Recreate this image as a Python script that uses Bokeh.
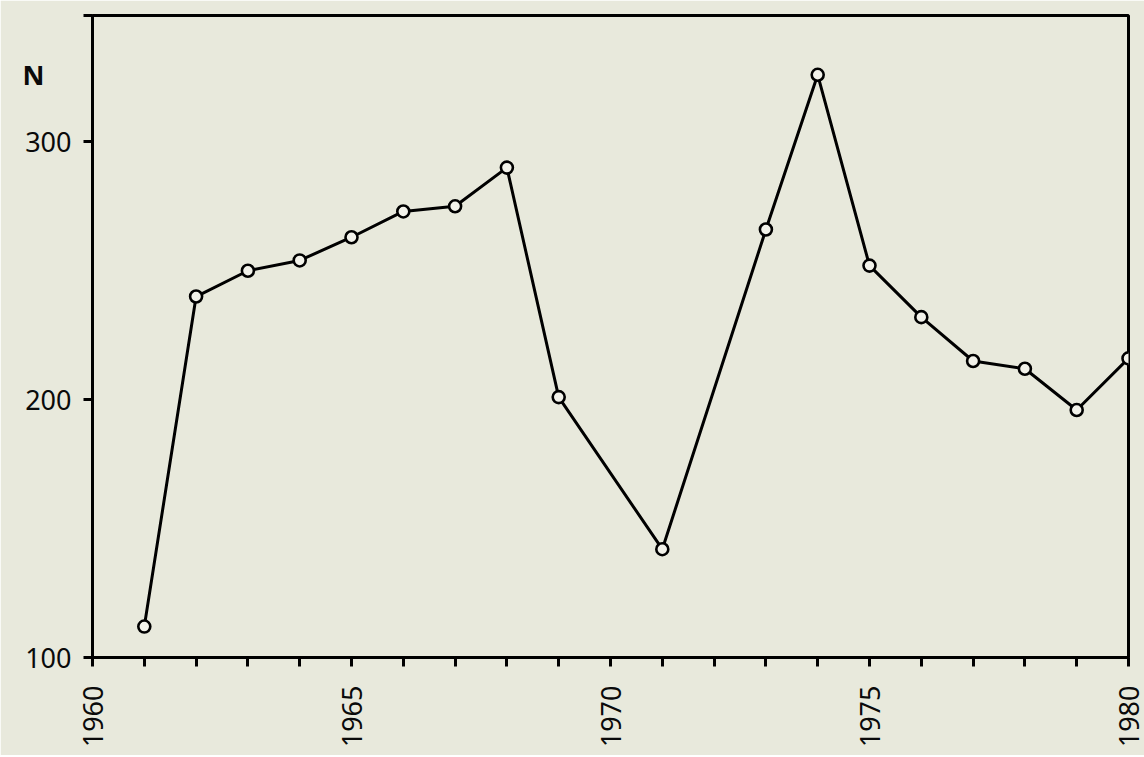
import math
from bokeh.plotting import figure
from bokeh.models import FixedTicker, Range1d, LinearAxis, ColumnDataSource
from bokeh.embed import file_html
from bokeh.resources import INLINE

# Data
years = [1961, 1962, 1963, 1964, 1965, 1966, 1967, 1968, 1969,
         1971, 1973, 1974, 1975, 1976, 1977, 1978, 1979, 1980]
counts = [112, 240, 250, 254, 263, 273, 275, 290, 201,
          142, 266, 326, 252, 232, 215, 212, 196, 216]
x_ticks = list(range(1960, 1981))
x_labels = {1960: "1960", 1965: "1965", 1970: "1970", 1975: "1975", 1980: "1980"}
y_ticks = [100, 200, 300, 349]
y_labels = {100: "100", 200: "200", 300: "300", 349: ""}
y_name = "N"

BG = "#e8e9dc"
FONT = "Noto Sans"
FS = "27px"

p = figure(width=1144, height=755, output_backend="svg", toolbar_location=None,
           x_range=Range1d(1960, 1980), y_range=Range1d(100, 349),
           min_border_left=92, min_border_right=16, min_border_top=15, min_border_bottom=98)
p.background_fill_color = BG
p.border_fill_color = BG
p.outline_line_color = "black"
p.outline_line_width = 3
p.grid.visible = False

src = ColumnDataSource(dict(x=years, y=counts))
p.line("x", "y", source=src, line_color="black", line_width=3)
p.scatter("x", "y", source=src, size=12, fill_color="#f2f2ea", line_color="black", line_width=2.6)

def style_labels(ax):
    ax.major_label_text_font = FONT
    ax.major_label_text_font_size = FS
    ax.major_label_text_color = "#0a0a0a"

xa = p.xaxis[0]
xa.ticker = FixedTicker(ticks=x_ticks)
xa.major_label_overrides = {t: x_labels.get(t, "") for t in x_ticks}
xa.major_label_orientation = math.pi / 2
style_labels(xa)
xa.major_label_standoff = 19
xa.axis_line_width = 3
xa.major_tick_line_width = 3
xa.major_tick_out = 9
xa.major_tick_in = 0
xa.minor_tick_line_color = None

ya = p.yaxis[0]
ya.ticker = FixedTicker(ticks=y_ticks)
ya.major_label_overrides = y_labels
style_labels(ya)
ya.major_label_standoff = 12
ya.axis_line_width = 3
ya.major_tick_line_width = 3
ya.major_tick_out = 9
ya.major_tick_in = 0
ya.minor_tick_line_color = None

# "N" label via an extra, line-less axis
na = LinearAxis(ticker=FixedTicker(ticks=[326]), major_label_overrides={326: y_name})
na.axis_line_color = None
na.major_tick_line_color = None
na.minor_tick_line_color = None
na.major_tick_out = 0
na.major_tick_in = 0
style_labels(na)
na.major_label_text_font_style = "bold"
na.major_label_standoff = -22
p.add_layout(na, "left")

open("out.html", "w").write(file_html(p, INLINE))
